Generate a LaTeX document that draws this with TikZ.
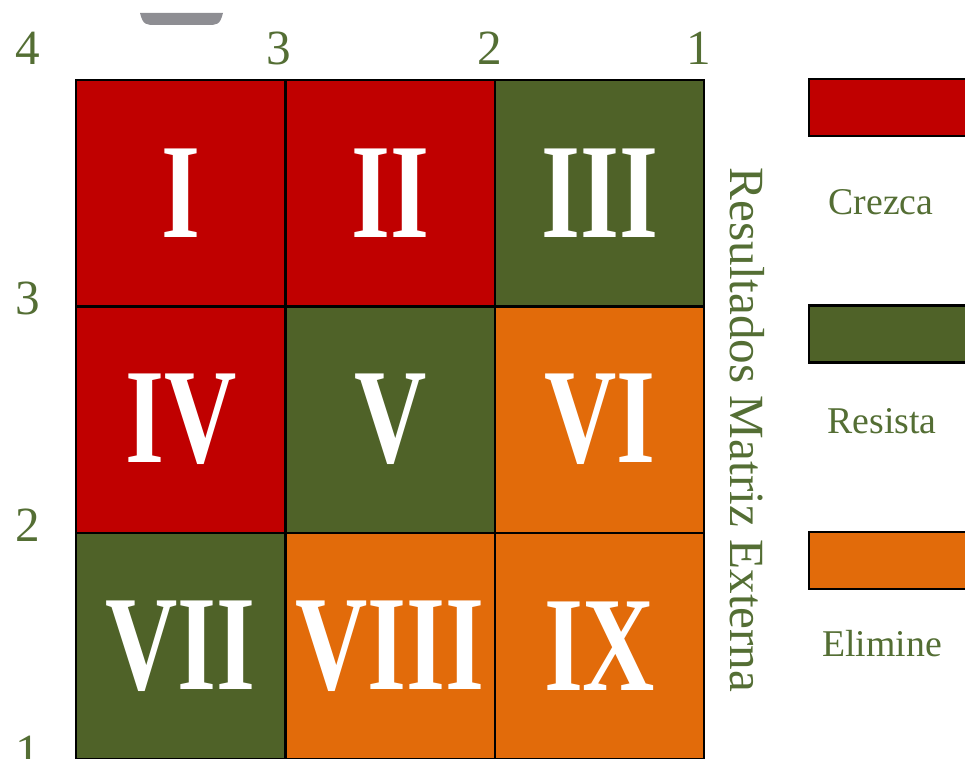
\documentclass[tikz,border=0pt]{standalone}
\usepackage{fontspec}
\setmainfont{Liberation Serif}
\usetikzlibrary{positioning}
\definecolor{ieRed}{RGB}{192,0,0}
\definecolor{ieGreen}{RGB}{79,98,40}
\definecolor{ieOrange}{RGB}{226,107,10}
\definecolor{ieText}{RGB}{84,110,52}
\definecolor{notchGray}{RGB}{142,142,147}
\newcommand\cellnum[1]{\scalebox{0.74}[1]{#1}}

\begin{document}
\begin{tikzpicture}[
  x=0.02cm, y=-0.02cm,
  cell/.style={
    outer sep=0pt,
    inner sep=0pt,
    minimum width=4.19cm,
    minimum height=4.53cm,
    text=white,
    font=\fontsize{77}{80}\selectfont\bfseries
  },
  gridline/.style={line width=1.2pt,black},
  tick/.style={text=ieText,inner sep=0pt,font=\fontsize{28}{30}\selectfont},
  legendbox/.style={draw,line width=1.2pt,anchor=west,inner sep=0pt,minimum width=4cm,minimum height=1.14cm},
  legendtext/.style={text=ieText,inner sep=0pt,font=\fontsize{21.5}{24}\selectfont}
]
  \path[use as bounding box,clip] (0,0) rectangle (965,759);
  \fill[notchGray] (140,13) .. controls (143,25) and (146,25) .. (156,25) -- (207,25) .. controls (217,25) and (220,25) .. (223,13) -- cycle;

  % matriz
  \node[cell,fill=ieRed,anchor=north west] (c1) at (76,80) {\cellnum{I}};
  \node[cell,fill=ieRed,right=0pt of c1] (c2) {\cellnum{II}};
  \node[cell,fill=ieGreen,right=0pt of c2] (c3) {\cellnum{III}};
  \node[cell,fill=ieRed,below=0pt of c1] (c4) {\cellnum{IV}};
  \node[cell,fill=ieGreen,right=0pt of c4] (c5) {\cellnum{V}};
  \node[cell,fill=ieOrange,right=0pt of c5] (c6) {\cellnum{VI}};
  \node[cell,fill=ieGreen,below=0pt of c4] (c7) {\cellnum{VII}};
  \node[cell,fill=ieOrange,right=0pt of c7] (c8) {\cellnum{VIII}};
  \node[cell,fill=ieOrange,right=0pt of c8] (c9) {\cellnum{IX}};
  \draw[gridline] (c1.north west) rectangle (c9.south east);
  \draw[gridline] (c1.north east) -- (c7.south east);
  \draw[gridline] (c2.north east) -- (c8.south east);
  \draw[gridline] (c1.south west) -- (c3.south east);
  \draw[gridline] (c4.south west) -- (c6.south east);

  % escalas
  \node[tick] (top4) at (28,48) {4};
  \node[tick] (top3) at (279,48) {3};
  \node[tick] (top2) at (490,48) {2};
  \node[tick] (top1) at (699,48) {1};
  \node[tick] (left3) at (28,298) {3};
  \node[tick] (left2) at (28,525) {2};
  \node[tick] (left1) at (28,752) {1};
  \node[tick,rotate=-90] (axis) at (747,430) {Resultados Matriz Externa};

  % leyenda
  \node[legendbox,fill=ieRed] (boxCrezca) at (808,107.5) {};
  \node[legendtext] (txtCrezca) at (881,202.5) {Crezca};
  \node[legendbox,fill=ieGreen] (boxResista) at (808,334) {};
  \node[legendtext] (txtResista) at (882,421.5) {Resista};
  \node[legendbox,fill=ieOrange] (boxElimine) at (808,560.5) {};
  \node[legendtext] (txtElimine) at (882,643.5) {Elimine};
\end{tikzpicture}
\end{document}
